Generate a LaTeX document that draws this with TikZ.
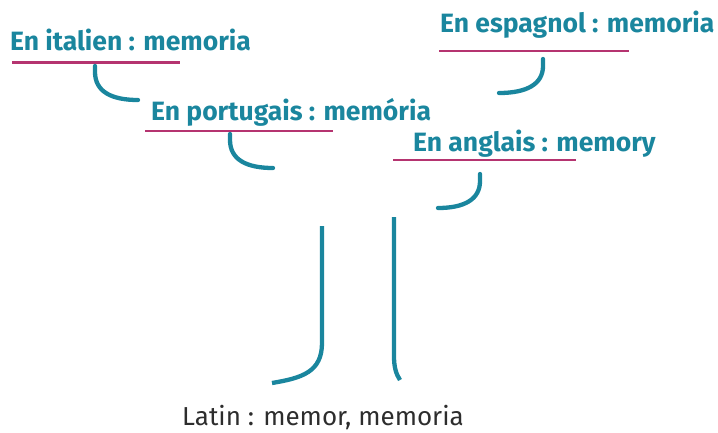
\documentclass[tikz,border=0pt]{standalone}
\usepackage{fontspec}
\setmainfont{Fira Sans}
\definecolor{tealA}{RGB}{26,134,158}
\definecolor{magA}{RGB}{181,52,112}
\definecolor{greyA}{RGB}{45,45,45}
\begin{document}
\begin{tikzpicture}[x=1pt,y=-1pt,
  lang/.style={anchor=base west, inner sep=0pt, text=tealA, font=\bfseries\fontsize{26.5}{30}\selectfont},
  uline/.style={draw=magA, line width=2.2pt},
  branch/.style={draw=tealA, line width=4.3pt, line cap=round},
  trunk/.style={draw=tealA, line width=4.3pt}]
\useasboundingbox (0,0) rectangle (718,433);
\node[lang] (it) at (10,51) {En italien : memoria};
\node[lang] (pt) at (151,120.5) {En portugais : memória};
\node[lang] (es) at (440,33) {En espagnol : memoria};
\node[lang] (en) at (413,152) {En anglais : memory};
\node[anchor=base west, inner sep=0pt, text=greyA, font=\fontsize{26}{29}\selectfont] (la) at (182,425.5) {Latin : memor, memoria};
\draw[uline] (12,62.5) -- (180,62.5);
\draw[uline] (145,131) -- (333,131);
\draw[uline] (439,51) -- (629,51);
\draw[uline] (393,160) -- (576,160);
\draw[branch] (95,66) -- (95,72) .. controls (95,92) and (112,100) .. (138,100);
\draw[branch] (230,134) -- (230,140) .. controls (230,160) and (247,168) .. (273,168);
\draw[branch] (543,59) -- (543,66) .. controls (543,84) and (527,93) .. (499,93);
\draw[branch] (480,174) -- (480,181) .. controls (480,199) and (465,208) .. (438,208);
\draw[trunk] (322,226) -- (322,343) .. controls (322,372) and (302,378) .. (272,383);
\draw[trunk] (394,217) -- (394,356) .. controls (394,367) and (396,374) .. (400,380);
\end{tikzpicture}
\end{document}
